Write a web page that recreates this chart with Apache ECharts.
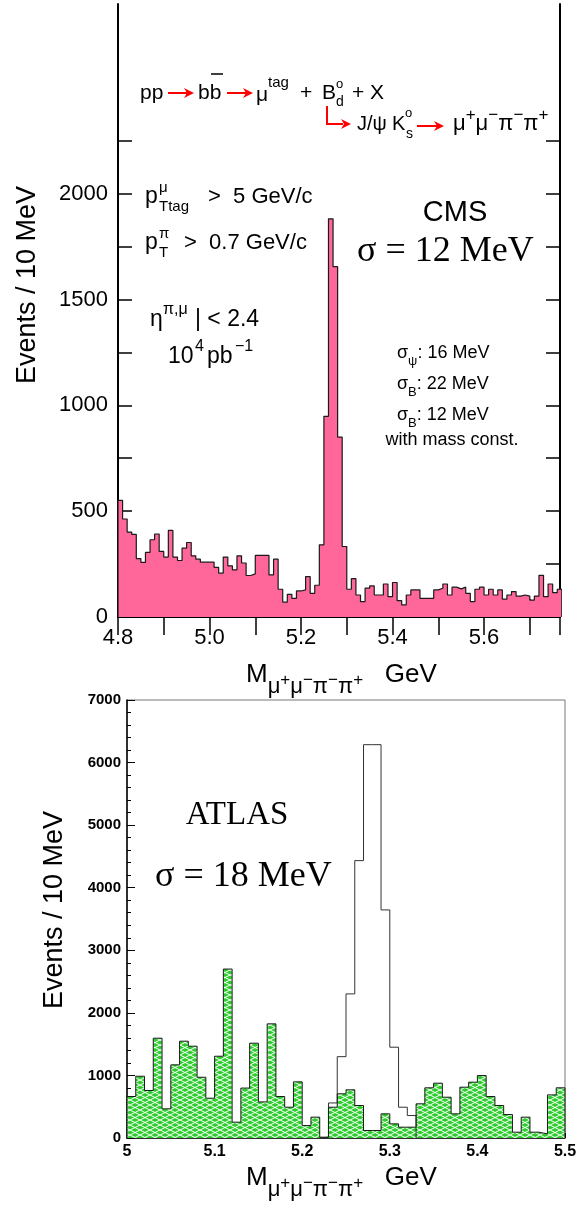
<!DOCTYPE html>
<html>
<head>
<meta charset="utf-8">
<script src="https://cdn.jsdelivr.net/npm/echarts@6/dist/echarts.min.js"></script>
<style>
html, body { margin: 0; padding: 0; background: #fff; }
#grafica { width: 587px; height: 1205px; }
</style>
</head>
<body>
<div id="grafica"></div>
<script>
// bins are 10 MeV wide
const binWidth = 0.01;

// CMS: events / 10 MeV, first bin starts at 4.80 GeV
const cmsStart = 4.8;
const cmsCounts = [
  551, 463, 401, 390, 276, 258, 305, 365, 392, 310,
  283, 409, 283, 267, 325, 352, 289, 273, 259, 259,
  259, 234, 207, 283, 242, 223, 289, 255, 196, 204,
  291, 291, 291, 199, 273, 131, 70, 107, 88, 123,
  128, 191, 112, 150, 341, 948, 1881, 1655, 850, 333,
  131, 181, 104, 73, 136, 147, 104, 104, 156, 96,
  163, 77, 57, 104, 128, 128, 88, 88, 88, 128,
  136, 156, 104, 141, 133, 141, 112, 73, 131, 141,
  104, 131, 104, 128, 84, 104, 120, 99, 104, 99,
  80, 99, 197, 96, 156, 115, 131
];
const cmsXLabels = [4.8, 5.0, 5.2, 5.4, 5.6];
const cmsYMax = 2896;
const cmsTickTop = 2250; // ticks stop here in the original

// ATLAS: background (hatched) and total with signal (open), bins start at 5.00 GeV
const atlasStart = 5.0;
const atlasBkg = [
  663, 987, 759, 1595, 466, 1169, 1547, 1467, 971, 636,
  1307, 2700, 253, 798, 1515, 577, 1824, 663, 492, 897,
  199, 333, 13, 492, 706, 770, 519, 120, 120, 386,
  226, 173, 173, 546, 802, 876, 652, 386, 812, 892,
  998, 663, 519, 375, 93, 333, 93, 66, 689, 802
];
const atlasSigStart = 5.22;
const atlasTotal = [13, 560, 1300, 2303, 4433, 6286, 6286, 3645, 1451, 492, 359];

const stepPoints = (start, counts) => {
  const pts = [[start, 0]];
  counts.forEach((c, i) => pts.push([+(start + i * binWidth).toFixed(3), c]));
  const end = +(start + counts.length * binWidth).toFixed(3);
  pts.push([end, counts[counts.length - 1]]);
  pts.push([end, 0]);
  return pts;
};

// green hatch like the original
const hatch = document.createElement("canvas");
hatch.width = 10;
hatch.height = 5;
const hc = hatch.getContext("2d");
hc.fillStyle = "#2ecc2e";
hc.fillRect(0, 0, 10, 5);
hc.strokeStyle = "#ffffff";
hc.lineWidth = 1;
hc.beginPath();
hc.moveTo(0, 0); hc.lineTo(10, 5);
hc.moveTo(0, 5); hc.lineTo(10, 0);
hc.stroke();

const SANS = "Liberation Sans";
const SERIF = "Liberation Serif";

const txt = (x, y, text, size, extra) => ({
  type: "text", x, y, z: 100,
  style: Object.assign({ text, fontSize: size, fontFamily: SANS, fill: "#000", align: "left", verticalAlign: "middle" }, extra || {})
});

// pieces of text laid out one after another, each with its own size and vertical shift
const measure = document.createElement("canvas").getContext("2d");
const seq = (x, y, parts) => {
  const out = [];
  parts.forEach(([s, size, dy]) => {
    out.push(txt(x, y + dy, s, size));
    measure.font = size + "px " + SANS;
    x += measure.measureText(s).width;
  });
  return out;
};

const arrow = (x1, y1, x2, y2) => [
  { type: "line", z: 100, shape: { x1, y1, x2: x2 - 6, y2 }, style: { stroke: "#ff0000", lineWidth: 2 } },
  { type: "polygon", z: 100, shape: { points: [[x2, y2], [x2 - 10, y2 - 5], [x2 - 7, y2], [x2 - 10, y2 + 5]] }, style: { fill: "#ff0000" } }
];

const subRich = (big, small) => ({
  b: { fontSize: big, lineHeight: big + 12, fontFamily: SANS, verticalAlign: "middle" },
  sub: { fontSize: small, lineHeight: small, fontFamily: SANS, verticalAlign: "bottom" },
  sup: { fontSize: small, lineHeight: small, fontFamily: SANS, verticalAlign: "top" }
});

// M with subscript particles, charges raised a little
const massTitle = [
  ["M", 26, 0], ["μ", 22, 12], ["+", 17, 5], ["μ", 22, 12], ["−", 17, 5],
  ["π", 22, 12], ["−", 17, 5], ["π", 22, 12], ["+", 17, 5], ["   GeV", 26, 0]
];

const graphics = [
  // reaction line
  txt(140, 93, "pp", 21),
  ...arrow(168, 93, 194, 93),
  txt(198, 93, "bb", 21),
  { type: "line", z: 100, shape: { x1: 211, y1: 74, x2: 223, y2: 74 }, style: { stroke: "#000", lineWidth: 1.5 } },
  ...arrow(227, 93, 253, 93),
  txt(256, 95, "μ", 21),
  txt(268, 83, "tag", 15),
  txt(300, 93, "+", 21),
  txt(322, 93, "B", 21),
  txt(336, 84, "o", 13),
  txt(336, 102, "d", 14),
  txt(352, 93, "+ X", 21),
  { type: "polyline", z: 100, shape: { points: [[327, 106], [327, 124], [343, 124]] }, style: { stroke: "#ff0000", lineWidth: 2, fill: null } },
  { type: "polygon", z: 100, shape: { points: [[351, 124], [341, 119], [344, 124], [341, 129]] }, style: { fill: "#ff0000" } },
  txt(357, 124, "J/ψ", 20),
  txt(392, 124, "K", 20),
  txt(405, 113, "o", 13),
  txt(406, 134, "s", 14),
  ...arrow(417, 126, 444, 126),
  txt(453, 124, "{b|μ}{sup|+}{b|μ}{sup|−}{b|π}{sup|−}{b|π}{sup|+}", 22, { rich: subRich(22, 17) }),
  // cuts
  txt(145, 197, "p", 23),
  txt(159, 188, "μ", 15),
  txt(159, 207, "Ttag", 15),
  txt(208, 197, ">  5 GeV/c", 22),
  txt(145, 243, "p", 23),
  txt(159, 234, "π", 15),
  txt(159, 253, "T", 15),
  txt(184, 243, ">  0.7 GeV/c", 22),
  txt(150, 320, "η", 23),
  txt(163, 310, "π,μ", 16),
  txt(195, 320, "| < 2.4", 23),
  txt(168, 357, "10", 23),
  txt(195, 347, "4", 16),
  txt(207, 357, "pb", 23),
  txt(235, 347, "−1", 16),
  // CMS labels
  txt(455, 213, "CMS", 29, { align: "center" }),
  txt(357, 252, "σ = 12 MeV", 36, { fontFamily: SERIF }),
  txt(397, 353, "{b|σ}{sub|ψ}{b|: 16 MeV}", 18, { rich: subRich(18, 13) }),
  txt(397, 384, "{b|σ}{sub|B}{b|: 22 MeV}", 18, { rich: subRich(18, 13) }),
  txt(397, 415, "{b|σ}{sub|B}{b|: 12 MeV}", 18, { rich: subRich(18, 13) }),
  txt(452, 440, "with mass const.", 18, { align: "center" }),
  // CMS axis names
  { type: "text", x: 28, y: 285, rotation: Math.PI / 2, z: 100,
    style: { text: "Events / 10 MeV", fontSize: 27, fontFamily: SANS, fill: "#000", align: "center", verticalAlign: "middle" } },
  ...seq(246, 675, massTitle),
  // ATLAS labels
  txt(237, 815, "ATLAS", 33, { align: "center", fontFamily: SERIF }),
  txt(155, 877, "σ = 18 MeV", 36, { fontFamily: SERIF }),
  { type: "text", x: 55, y: 910, rotation: Math.PI / 2, z: 100,
    style: { text: "Events / 10 MeV", fontSize: 27, fontFamily: SANS, fill: "#000", align: "center", verticalAlign: "middle" } },
  ...seq(246, 1178, massTitle)
];

const tickGridTop = 617 - 613 * cmsTickTop / cmsYMax;

const getOptionChart = () => ({
  animation: false,
  backgroundColor: "#fff",
  grid: [
    { left: 118, top: 4, width: 442, height: 613, show: false },
    { left: 127, top: 700, width: 438, height: 438, show: true, borderColor: "#777", borderWidth: 1, backgroundColor: "transparent" },
    // carries the CMS y ticks, which stop at 2250
    { left: 118, top: tickGridTop, width: 442, height: 617 - tickGridTop, show: false }
  ],
  xAxis: [
    {
      type: "value", gridIndex: 0, min: 4.8, max: 5.766, interval: 0.1, position: "bottom",
      axisLine: { lineStyle: { color: "#000", width: 2 } },
      axisTick: { inside: true, length: 18, lineStyle: { color: "#000", width: 1.5 } },
      axisLabel: { customValues: cmsXLabels, formatter: (v) => v.toFixed(1), fontSize: 22, fontFamily: SANS, color: "#000", margin: 10 },
      splitLine: { show: false }
    },
    {
      type: "value", gridIndex: 0, min: 4.8, max: 5.766, interval: 0.1, position: "top",
      axisLine: { lineStyle: { color: "#000", width: 2 } },
      axisTick: { inside: true, length: 18, lineStyle: { color: "#000", width: 1.5 } },
      axisLabel: { show: false },
      splitLine: { show: false }
    },
    {
      type: "value", gridIndex: 1, min: 5.0, max: 5.5, interval: 0.1, position: "bottom",
      axisLine: { lineStyle: { color: "#000", width: 1.5 } },
      axisTick: { inside: true, length: 5, lineStyle: { color: "#000" } },
      axisLabel: { fontSize: 16, fontWeight: "bold", fontFamily: SANS, color: "#000", margin: 6 },
      splitLine: { show: false }
    },
    { type: "value", gridIndex: 2, min: 0, max: 1, show: false }
  ],
  yAxis: [
    {
      type: "value", gridIndex: 0, min: 0, max: cmsYMax, position: "left",
      axisLine: { show: true, lineStyle: { color: "#000", width: 2 } },
      axisTick: { show: false }, axisLabel: { show: false }, splitLine: { show: false }
    },
    {
      type: "value", gridIndex: 0, min: 0, max: cmsYMax, position: "right",
      axisLine: { show: true, lineStyle: { color: "#000", width: 2 } },
      axisTick: { show: false }, axisLabel: { show: false }, splitLine: { show: false }
    },
    {
      type: "value", gridIndex: 1, min: 0, max: 7000, interval: 1000, position: "left",
      axisLine: { show: true, lineStyle: { color: "#000", width: 1.5 } },
      axisTick: { show: true, inside: true, length: 8, lineStyle: { color: "#000" } },
      minorTick: { show: true, splitNumber: 5, length: 4, lineStyle: { color: "#000" } },
      axisLabel: { formatter: (v) => String(v), fontSize: 15, fontWeight: "bold", fontFamily: SANS, color: "#000", margin: 6 },
      splitLine: { show: false }
    },
    {
      type: "value", gridIndex: 2, min: 0, max: cmsTickTop, interval: 250, position: "left",
      axisLine: { show: false },
      axisTick: { show: true, inside: true, length: 14, lineStyle: { color: "#000", width: 1.5 } },
      axisLabel: { formatter: (v) => (v % 500 === 0 ? String(v) : ""), fontSize: 22, fontFamily: SANS, color: "#000", margin: 10 },
      splitLine: { show: false }
    },
    {
      type: "value", gridIndex: 2, min: 0, max: cmsTickTop, interval: 250, position: "right",
      axisLine: { show: false },
      axisTick: { show: true, inside: true, length: 14, lineStyle: { color: "#000", width: 1.5 } },
      axisLabel: { show: false },
      splitLine: { show: false }
    }
  ],
  series: [
    {
      name: "CMS", type: "line", xAxisIndex: 0, yAxisIndex: 0, step: "end", showSymbol: false,
      data: stepPoints(cmsStart, cmsCounts),
      lineStyle: { color: "#1a1a1a", width: 1.2 },
      areaStyle: { color: "#ff6699", opacity: 1 }
    },
    {
      name: "ATLAS total", type: "line", xAxisIndex: 2, yAxisIndex: 2, step: "end", showSymbol: false,
      data: stepPoints(atlasSigStart, atlasTotal),
      lineStyle: { color: "#333", width: 1 },
      areaStyle: { color: "#fff", opacity: 1 }
    },
    {
      name: "ATLAS background", type: "line", xAxisIndex: 2, yAxisIndex: 2, step: "end", showSymbol: false,
      data: stepPoints(atlasStart, atlasBkg),
      lineStyle: { color: "#1a1a1a", width: 1 },
      areaStyle: { color: { image: hatch, repeat: "repeat" }, opacity: 1 }
    }
  ],
  graphic: graphics
});

const initCharts = () => {
  const chart = echarts.init(document.querySelector("#grafica"), null, { renderer: "canvas" });
  chart.setOption(getOptionChart());
};

initCharts();
</script>
</body>
</html>
